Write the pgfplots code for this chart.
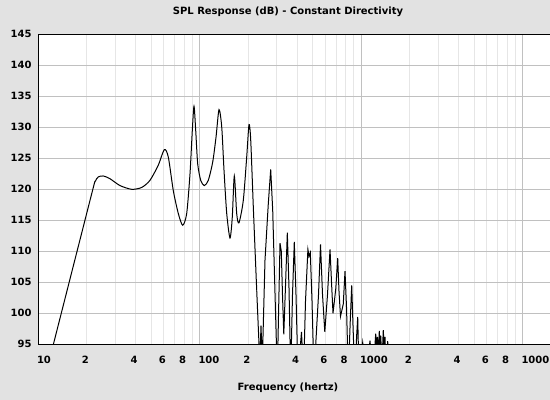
\documentclass[border=0pt]{standalone}
\usepackage{fontspec}
\setmainfont{DejaVu Sans}
\usepackage{pgfplots}
\pgfplotsset{compat=1.18}
\definecolor{bgc}{RGB}{226,226,226}
\definecolor{gmaj}{RGB}{192,192,192}
\definecolor{gmin}{RGB}{230,230,230}
\newcommand{\lblfont}{\fontsize{10bp}{12bp}\selectfont\bfseries}
\begin{document}
\begin{tikzpicture}
\useasboundingbox (0,0) rectangle (550bp,400bp);
\clip (0,0) rectangle (550bp,400bp);
\fill[bgc] (0,0) rectangle (550bp,400bp);
\begin{axis}[
  at={(38.3bp,55.7bp)}, anchor=south west,
  scale only axis, width=520bp, height=310bp,
  xmode=log, xmin=10, xmax=16590,
  ymin=95, ymax=145,
  ytick={95,100,105,110,115,120,125,130,135,140,145},
  yticklabels={95,100,105,110,115,120,125,130,135,140,145},
  xtick={10,100,1000,10000},
  xticklabels={10,100,1000,1000},
  minor xtick={20,30,40,50,60,70,80,90,200,300,400,500,600,700,800,900,2000,3000,4000,5000,6000,7000,8000,9000},
  extra x ticks={20,40,60,80,200,400,600,800,2000,4000,6000,8000},
  extra x tick labels={2,4,6,8,2,4,6,8,2,4,6,8},
  extra x tick style={grid=none, xticklabel style={anchor=base, xshift=0bp}},
  grid=both,
  major grid style={draw=gmaj, line width=1bp},
  minor grid style={draw=gmin, line width=1bp},
  major tick length=0pt, minor tick length=0pt,
  axis line style={black, line width=1bp},
  axis background/.style={fill=white},
  xticklabel style={anchor=base west, inner sep=0pt, xshift=-1.5bp, yshift=-19.7bp, font=\lblfont},
  yticklabel style={anchor=east, inner sep=0pt, xshift=-6.5bp, font=\lblfont},
]
\addplot[black, line width=1bp, smooth, tension=0.45] coordinates {
(12.4,95.0) (21.42,119.3) (22.44,121.2) (23.52,122.0) (25.27,122.15) (27.8,121.7)
(32.06,120.6) (37.87,120.0) (43.68,120.3) (49.15,121.45) (55.34,123.9) (60.29,126.4)
(63.83,125.2) (68.53,119.8) (73.6,116.1) (78.37,114.2) (82.96,116.1) (86.96,122.5)
(89.87,129.5) (92.07,133.4) (94.33,129.5) (97.05,124.1) (101.3,121.45) (106.6,120.6)
(112.9,121.45) (120.2,124.4) (126.0,128.4) (131.5,132.85) (136.7,130.05) (141.2,123.1)
(146.8,116.1) (153.8,112.15) (158.9,115.5) (163.6,122.15) (169.2,116.1) (174.8,114.6)
(185.9,118.2) (195.2,125.2) (201.7,130.44) (206.7,127.9) (214.5,117.1) (225.1,103.7)
};
\addplot[black, line width=1bp, sharp plot] coordinates {
(225.1,103.7)
(235.3,92) (239.3,98) (243.8,92) (253.3,108.55) (265.6,117.7) (274.8,123.2)
(282.8,116.6) (292.2,103.2) (301.9,90) (308.5,102) (313.8,111.3) (319.6,110.0)
(325.1,103) (331.2,96.6) (340.0,105) (348.3,113.0) (356.8,104) (365.5,90)
(375.0,103) (384.7,111.5) (394.2,103) (405.6,90) (426.3,97) (438.7,90)
(451.4,102) (467.1,110.3) (474.5,109.2) (483.4,109.8) (495.2,102) (509.5,90)
(543.3,103) (559.1,111.1) (575.3,103) (594.3,97) (617.6,103) (640.2,110.3)
(654.0,105) (668.1,100) (695.3,104) (714.4,108.9) (727.8,103.5) (743.4,99.5)
(773.6,101.5) (792.8,106.8) (809.9,101) (830.9,90) (855.0,99) (872.3,104.5)
(888.5,98) (910.2,90) (936.6,96.5) (950.1,99.4) (967.8,90) (1020,95.3)
(1075,90) (1132,95.6) (1180,90) (1228,96.7) (1242,94) (1256,96.2)
(1275,94) (1293,97.15) (1306,94.5) (1319,96.4) (1343,92) (1368,97.3)
(1385,94.5) (1402,96.2) (1430,90) (1457,95.5) (1490,90) (1521,95.0) (1560,90)
};
\end{axis}
\node[anchor=base, inner sep=0pt, font=\lblfont] at (288bp,385bp) {SPL Response (dB) - Constant Directivity};
\node[anchor=base, inner sep=0pt, font=\lblfont] at (288bp,10bp) {Frequency (hertz)};
\end{tikzpicture}
\end{document}
